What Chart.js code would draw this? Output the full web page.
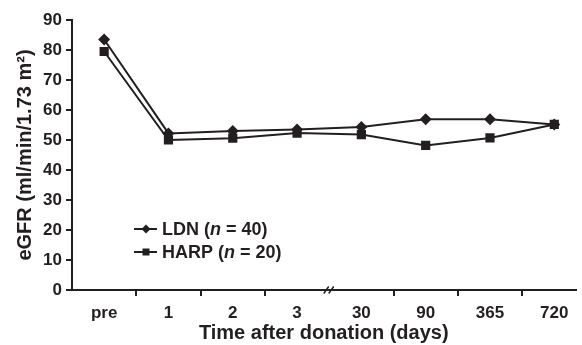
<!DOCTYPE html>
<html>
<head>
<meta charset="utf-8">
<script src="https://cdn.jsdelivr.net/npm/chart.js@4"></script>
<style>
  html, body { margin: 0; padding: 0; background: #fff; }
  canvas { display: block; }
</style>
</head>
<body>
<canvas id="myChart" width="582" height="345"></canvas>
<script>
const timeLabels = ["pre", "1", "2", "3", "30", "90", "365", "720"];
const ldnValues = [83.5, 52.2, 53.0, 53.5, 54.3, 56.9, 56.9, 55.2];
const harpValues = [79.5, 50.0, 50.6, 52.3, 51.8, 48.2, 50.7, 55.2];
const yTicks = [0, 10, 20, 30, 40, 50, 60, 70, 80, 90];

const ink = '#231f20';
const fam = "'Liberation Sans', Arial, sans-serif";

const toPoints = vals => vals.map((v, i) => ({ x: i, y: v }));

// legend with italic "n" + axis break mark
const extras = {
  id: 'extras',
  afterDraw(chart) {
    const ctx = chart.ctx;
    const xs = chart.scales.x, ys = chart.scales.y;
    ctx.save();
    ctx.strokeStyle = ink;
    ctx.fillStyle = ink;

    // break "//" on the x axis
    const bx = xs.getPixelForValue(3.5), by = ys.getPixelForValue(0);
    ctx.lineWidth = 1.5;
    [-3, 2].forEach(dx => {
      ctx.beginPath();
      ctx.moveTo(bx + dx - 2.5, by + 3.5);
      ctx.lineTo(bx + dx + 2.5, by - 3.5);
      ctx.stroke();
    });

    const rows = [
      { name: 'LDN (', n: ' = 40)', shape: 'diamond', y: 229 },
      { name: 'HARP (', n: ' = 20)', shape: 'square', y: 252 }
    ];
    const x0 = chart.chartArea.left + 62;
    rows.forEach(r => {
      ctx.lineWidth = 2;
      ctx.beginPath();
      ctx.moveTo(x0, r.y);
      ctx.lineTo(x0 + 23, r.y);
      ctx.stroke();
      const mx = x0 + 12;
      ctx.beginPath();
      if (r.shape === 'diamond') {
        ctx.moveTo(mx, r.y - 4.5);
        ctx.lineTo(mx + 4.5, r.y);
        ctx.lineTo(mx, r.y + 4.5);
        ctx.lineTo(mx - 4.5, r.y);
        ctx.closePath();
      } else {
        ctx.rect(mx - 3.5, r.y - 3.5, 7, 7);
      }
      ctx.fill();

      ctx.textBaseline = 'middle';
      ctx.textAlign = 'left';
      let tx = x0 + 28;
      ctx.font = 'bold 18px ' + fam;
      ctx.fillText(r.name, tx, r.y + 1);
      tx += ctx.measureText(r.name).width;
      ctx.font = 'italic bold 18px ' + fam;
      ctx.fillText('n', tx, r.y + 1);
      tx += ctx.measureText('n').width;
      ctx.font = 'bold 18px ' + fam;
      ctx.fillText(r.n, tx, r.y + 1);
    });
    ctx.restore();
  }
};

const config = {
  type: 'line',
  data: {
    datasets: [{
      label: 'LDN (n = 40)',
      data: toPoints(ldnValues),
      borderColor: ink,
      backgroundColor: ink,
      borderWidth: 2,
      pointStyle: 'rectRot',
      pointRadius: 6,
      pointBorderWidth: 0
    }, {
      label: 'HARP (n = 20)',
      data: toPoints(harpValues),
      borderColor: ink,
      backgroundColor: ink,
      borderWidth: 2,
      pointStyle: 'rect',
      pointRadius: 6.5,
      pointBorderWidth: 0
    }]
  },
  options: {
    responsive: false,
    animation: false,
    layout: { padding: { left: 0, right: 1, top: 20, bottom: 0 } },
    plugins: {
      legend: { display: false },
      tooltip: { enabled: false }
    },
    scales: {
      x: {
        type: 'linear',
        min: -0.5,
        max: 7.33,
        afterBuildTicks: s => {
          const t = [];
          for (let v = -0.5; v <= 7; v += 0.5) t.push({ value: v });
          s.ticks = t;
        },
        afterFit: s => { s.height = 55; },
        border: { color: ink, width: 2 },
        grid: {
          drawOnChartArea: false,
          tickLength: 6,
          lineWidth: 2,
          color: c => {
            const v = c.tick ? c.tick.value : 0;
            return (Number.isInteger(v) || v === -0.5 || v === 3.5) ? 'rgba(0,0,0,0)' : ink;
          }
        },
        ticks: {
          autoSkip: false,
          maxRotation: 0,
          padding: 7,
          color: ink,
          font: { family: fam, size: 17, weight: 'bold' },
          callback: v => Number.isInteger(v) ? timeLabels[v] : ''
        },
        title: {
          display: true,
          text: 'Time after donation (days)',
          color: ink,
          font: { family: fam, size: 20, weight: 'bold' },
          padding: { top: 0, bottom: 0 }
        }
      },
      y: {
        min: 0,
        max: 90,
        afterBuildTicks: s => { s.ticks = yTicks.map(v => ({ value: v })); },
        afterFit: s => { s.width = 72; },
        border: { color: ink, width: 2 },
        grid: { drawOnChartArea: false, tickLength: 6, lineWidth: 2, color: ink },
        ticks: {
          padding: 4,
          color: ink,
          font: { family: fam, size: 17, weight: 'bold' }
        },
        title: {
          display: true,
          text: 'eGFR (ml/min/1.73 m²)',
          color: ink,
          font: { family: fam, size: 20, weight: 'bold' },
          padding: { top: 13, bottom: 0 }
        }
      }
    }
  },
  plugins: [extras]
};

const myChart = new Chart(document.getElementById('myChart'), config);
</script>
</body>
</html>
